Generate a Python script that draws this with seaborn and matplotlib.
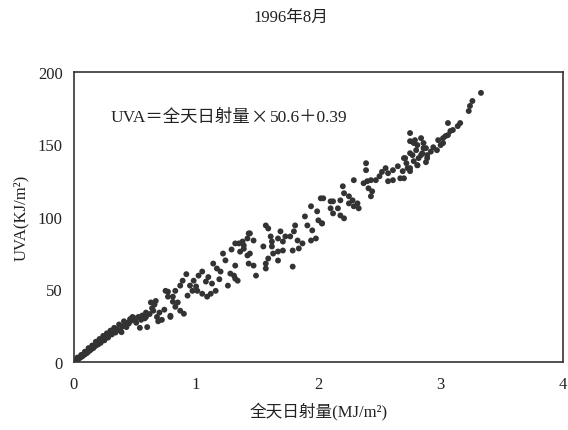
import matplotlib
matplotlib.use("Agg")
import matplotlib.pyplot as plt
from matplotlib.transforms import offset_copy
import seaborn as sns
import pandas as pd

# values (x: MJ/m2, y: KJ/m2)
rad_low = [0.00, 0.01, 0.02, 0.03, 0.04, 0.05, 0.06, 0.07, 0.08, 0.09, 0.10, 0.11,
           0.12, 0.13, 0.14, 0.15, 0.16, 0.17, 0.18, 0.19, 0.20, 0.21, 0.22, 0.23,
           0.24, 0.25, 0.26, 0.27, 0.28, 0.29, 0.30, 0.31, 0.32, 0.33, 0.34, 0.35,
           0.36, 0.38, 0.40, 0.41, 0.42, 0.44, 0.45, 0.47, 0.48, 0.50, 0.52, 0.53,
           0.54, 0.56, 0.58, 0.59, 0.60, 0.59, 0.64, 0.63, 0.69, 0.72, 0.79, 0.77,
           0.77, 0.85,
           0.03, 0.06, 0.09, 0.12, 0.15, 0.18, 0.21, 0.24, 0.27, 0.30, 0.33, 0.37,
           0.39, 0.43, 0.46, 0.51, 0.55, 0.62, 0.66, 0.70, 0.74]
uva_low = [0.3, 0.8, 1.2, 1.8, 2.2, 2.9, 3.4, 3.9, 4.8, 5.2, 5.9, 6.3,
           7.4, 7.8, 8.6, 9.3, 9.6, 10.8, 11.2, 12.4, 12.1, 13.6, 13.2, 14.8,
           15.4, 14.9, 16.6, 17.3, 16.8, 18.7, 19.6, 18.9, 20.8, 21.4, 20.2, 22.6,
           21.8, 22.0, 24.5, 28.0, 25.5, 27.0, 26.5, 28.5, 31.0, 29.0, 30.5, 31.0,
           23.5, 32.0, 30.0, 31.0, 24.0, 34.0, 37.0, 41.0, 28.0, 29.0, 31.0, 48.4,
           45.0, 41.0,
           3.0, 4.8, 7.0, 9.5, 11.3, 13.9, 15.8, 17.9, 19.7, 21.6, 23.5, 25.8,
           20.5, 24.0, 29.5, 27.0, 29.0, 33.0, 39.5, 34.0, 36.0]

rad_mid = [1.32, 1.38, 1.39, 1.43, 1.42, 1.22, 1.32, 1.28, 1.34, 1.26, 1.14, 1.17,
           1.20, 1.05, 1.02, 0.98, 1.08, 1.13, 1.16, 1.12, 1.09, 1.05, 1.01, 0.95,
           0.97, 0.93, 0.89, 0.87, 0.83, 0.81, 0.81, 0.83, 0.87, 0.90, 0.79, 0.75,
           0.67, 0.65, 0.68, 1.31, 1.35, 1.47, 1.44, 1.43, 1.47, 1.49, 1.32,
           1.10, 1.24, 1.29, 0.92, 1.00, 1.36, 1.19]
uva_mid = [81.7, 83.0, 78.0, 88.6, 73.4, 74.7, 66.4, 60.9, 56.0, 52.6, 67.8, 64.4,
           62.3, 62.3, 59.5, 56.0, 55.4, 54.0, 49.0, 47.0, 45.0, 47.0, 49.0, 52.6,
           49.0, 45.7, 56.0, 52.6, 49.0, 45.0, 41.5, 38.0, 35.3, 33.2, 31.8, 49.0,
           42.0, 35.3, 31.0, 59.5, 81.7, 83.7, 74.7, 67.8, 66.4, 59.5, 57.4,
           58.5, 70.0, 77.5, 60.5, 52.0, 76.0, 57.0]

rad_upper = [2.02, 2.10, 1.94, 1.99, 2.00, 2.03, 1.89, 1.91, 1.95, 1.98, 1.94, 1.81,
             1.80, 1.77, 1.83, 1.87, 1.84, 1.79, 1.73, 1.71, 1.69, 1.67, 1.62, 1.61,
             1.59, 1.57, 1.71, 1.67, 1.63, 1.59, 1.57, 1.57, 1.62, 1.55, 1.67, 1.79,
             1.44, 1.42, 1.39, 2.16, 2.29, 2.20, 2.21, 2.25, 2.28, 2.32, 2.33, 2.29,
             2.25, 2.18, 2.12, 2.10, 2.12, 2.18, 2.21, 2.04, 2.03, 2.39, 2.39, 2.47,
             2.43, 2.40, 2.37, 2.41, 2.44, 2.43]
uva_upper = [112.8, 110.7, 107.3, 103.8, 97.6, 95.5, 100.3, 94.1, 90.7, 85.1, 83.7, 94.1,
             90.0, 86.5, 83.7, 81.7, 78.2, 76.8, 86.5, 83.0, 90.0, 85.1, 83.0, 86.5,
             92.0, 94.1, 76.8, 76.1, 74.7, 71.3, 67.8, 64.4, 79.6, 79.6, 69.9, 65.7,
             88.6, 85.1, 80.3, 105.9, 125.3, 121.1, 116.3, 114.2, 111.4, 109.3, 105.9, 107.3,
             109.3, 111.4, 110.7, 105.9, 102.4, 101.0, 99.0, 112.8, 95.5, 137.0, 132.2, 125.3,
             125.3, 124.6, 123.2, 119.7, 117.6, 114.2]

rad_top = [2.75, 2.81, 2.86, 2.84, 2.89, 2.78, 2.73, 2.75, 2.81, 2.70, 2.75, 2.69,
           2.65, 2.61, 2.57, 2.55, 2.67, 2.61, 2.57, 3.33, 3.26, 3.24, 3.23, 3.16,
           3.14, 3.10, 3.08, 3.06, 3.06, 3.04, 3.02, 3.02, 3.00, 2.97, 2.98, 2.75,
           2.79, 2.84, 2.86, 2.88, 2.85, 2.82, 2.78, 2.77, 2.71, 2.81, 2.75, 2.88,
           2.89, 2.70, 2.92, 2.94, 2.80, 2.72, 2.50, 2.52]
uva_top = [152.2, 149.5, 147.4, 142.6, 140.5, 138.4, 133.6, 131.5, 135.6, 140.5, 143.9, 131.5,
           134.9, 132.2, 130.1, 133.6, 126.6, 125.3, 124.6, 185.5, 179.9, 176.5, 173.0, 164.7,
           162.6, 159.9, 159.2, 164.7, 156.4, 155.7, 154.3, 150.9, 149.5, 146.0, 152.9, 157.8,
           152.9, 154.3, 150.9, 147.4, 143.9, 140.5, 150.9, 142.6, 140.5, 135.6, 133.6, 137.7,
           142.6, 126.6, 145.0, 148.0, 146.0, 137.0, 128.0, 131.0]

df = pd.DataFrame({
    "rad": rad_low + rad_mid + rad_upper + rad_top,
    "uva": uva_low + uva_mid + uva_upper + uva_top,
})

sns.set_style("white")
plt.rcParams["font.family"] = ["Liberation Serif", "Noto Sans CJK SC"]

fig = plt.figure(figsize=(5.68, 4.31), dpi=100)
ax = fig.add_axes([0.130, 0.158, 0.861, 0.673])
sns.scatterplot(data=df, x="rad", y="uva", ax=ax, s=18, color="#333333",
                edgecolor="none", linewidth=0)

ax.set_xlim(0, 4)
ax.set_ylim(0, 200)
ax.set_xticks([0, 1, 2, 3, 4])
ax.set_yticks([0, 50, 100, 150, 200])
ax.tick_params(length=0, labelsize=12, colors="#222222")
ax.tick_params(axis="x", pad=10)
ax.tick_params(axis="y", pad=8)
for sp in ax.spines.values():
    sp.set_color("#333333")
    sp.set_linewidth(1.2)

ax.set_xlabel("全天日射量(MJ/m²)", fontsize=12, color="#222222", labelpad=7)
ax.set_ylabel("UVA(KJ/m²)", fontsize=12, color="#222222", labelpad=6)

# regression note, drawn in pieces so that × comes from the CJK font
pieces = [("UVA＝全天日射量", None), ("×", ["Noto Sans CJK SC"]), ("50.6＋0.39", None)]
fig.canvas.draw()
renderer = fig.canvas.get_renderer()
shift = 0.0
for s, fam in pieces:
    kw = {"family": fam} if fam else {}
    tr = offset_copy(ax.transData, fig=fig, x=shift, y=0, units="dots")
    t = ax.text(0.30, 169, s, fontsize=12.5, color="#222222", va="center",
                ha="left", transform=tr, **kw)
    shift += t.get_window_extent(renderer).width + 1

fig.text(0.513, 0.958, "1996年8月", fontsize=12, color="#222222",
         ha="center", va="center")

fig.savefig("out.png", dpi=100)
